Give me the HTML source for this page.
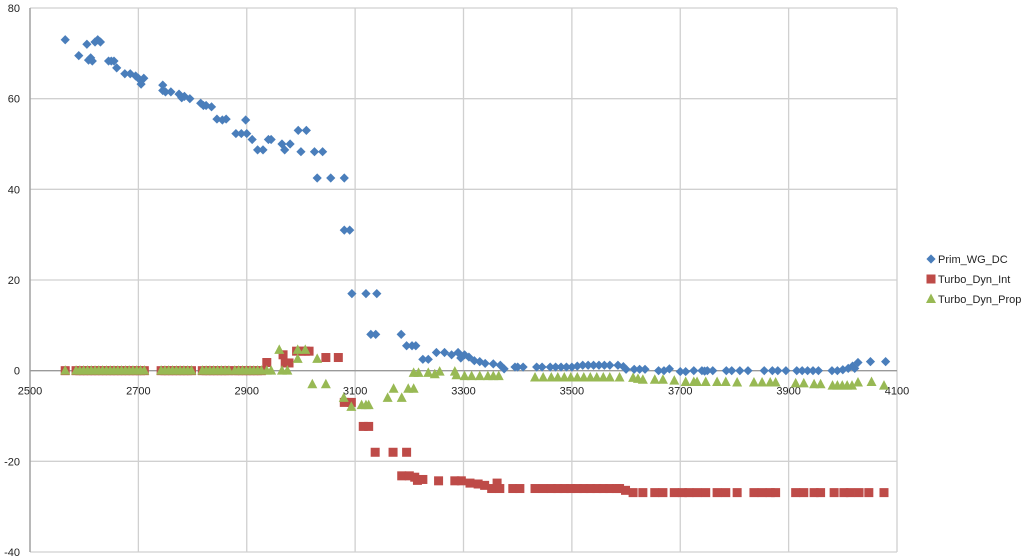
<!DOCTYPE html>
<html><head><meta charset="utf-8"><style>
html,body{margin:0;padding:0;background:#fff;}
svg{display:block;font-family:"Liberation Sans",sans-serif;}
</style></head><body>
<svg id="chart" width="1024" height="558" xmlns="http://www.w3.org/2000/svg">
<g id="grid"></g>
<g id="axes"></g>
<g id="marks"></g>
<g id="legend"></g>
</svg>
<script>
const xTicks=[2500,2700,2900,3100,3300,3500,3700,3900,4100];
const yTicks=[80,60,40,20,0,-20,-40];
const seriesNames=["Prim_WG_DC","Turbo_Dyn_Int","Turbo_Dyn_Prop"];
const primX=[2565,2590,2605,2608,2612,2615,2620,2625,2630,2645,2650,2655,2660,2675,2685,2695,2700,2705,2710,2745,2745,2750,2760,2775,2780,2785,2795,2815,2820,2825,2835,2845,2855,2862,2880,2890,2898,2900,2910,2920,2930,2940,2945,2965,2970,2980,2995,3000,3010,3025,3030,3040,3055,3080,3080,3090,3094,3120,3140,3129,3138,3185,3195,3205,3212,3225,3235,3250,3265,3278,3290,3295,3302,3310,3320,3330,3340,3355,3368,3375,3395,3400,3410,3435,3445,3460,3470,3480,3490,3500,3510,3520,3530,3540,3550,3560,3570,3585,3595,3600,3615,3625,3635,3660,3670,3680,3700,3710,3725,3740,3745,3750,3760,3785,3795,3810,3825,3855,3870,3880,3895,3915,3925,3935,3945,3955,3980,3990,4000,4010,4018,4022,4028,4051,4079];
const primY=[73,69.5,72,68.5,69,68.3,72.5,73,72.5,68.3,68.3,68.3,66.8,65.5,65.5,65,64.5,63.2,64.5,63,61.8,61.5,61.5,61,60.2,60.5,60,59,58.5,58.5,58.2,55.5,55.3,55.5,52.3,52.3,55.3,52.3,51,48.7,48.7,51,51,50,48.7,50,53,48.3,53,48.3,42.5,48.3,42.5,42.5,31,31,17,17,17,8,8,8,5.5,5.5,5.5,2.5,2.5,4,4,3.5,4,2.8,3.5,3,2.2,2,1.6,1.5,1.2,0.4,0.8,0.8,0.8,0.8,0.8,0.8,0.8,0.8,0.8,0.8,1,1.2,1.2,1.2,1.2,1.2,1.2,1.2,0.9,0.3,0.3,0.3,0.3,0,0,0.4,-0.2,-0.2,0,0,-0.1,0,0,0,0,0,0,0,0,0,0,0,0,0,0,0,0,0,0.2,0.5,1,0.5,1.8,2,2];
const intX=[2565,2585,2592,2599,2606,2613,2620,2627,2634,2641,2648,2655,2662,2669,2676,2683,2690,2697,2704,2711,2742,2749,2756,2763,2770,2777,2784,2791,2798,2818,2825,2832,2839,2846,2853,2860,2867,2878,2885,2892,2899,2906,2913,2920,2927,2937,2967,2971,2978,2992,3000,3008,3015,3046,3069,3080,3093,3115,3125,3137,3170,3195,3186,3200,3210,3215,3225,3254,3284,3296,3312,3327,3339,3352,3362,3367,3391,3404,3432,3447,3462,3474,3486,3498,3510,3522,3534,3546,3558,3570,3582,3588,3599,3613,3631,3653,3668,3689,3704,3716,3731,3747,3768,3784,3805,3836,3851,3866,3876,3913,3928,3947,3959,3984,4002,4014,4030,4048,4076];
const intY=[0,0,0,0,0,0,0,0,0,0,0,0,0,0,0,0,0,0,0,0,0,0,0,0,0,0,0,0,0,0,0,0,0,0,0,0,0,0,0,0,0,0,0,0,0,1.8,3.5,1.7,1.7,4.3,4.3,4.3,4.3,2.9,2.9,-7,-7,-12.3,-12.3,-18,-18,-18,-23.2,-23.2,-23.5,-24.2,-24,-24.3,-24.3,-24.3,-24.8,-25,-25.3,-26,-24.8,-26,-26,-26,-26,-26,-26,-26,-26,-26,-26,-26,-26,-26,-26,-26,-26,-26,-26.4,-26.9,-26.9,-26.9,-26.9,-26.9,-26.9,-26.9,-26.9,-26.9,-26.9,-26.9,-26.9,-26.9,-26.9,-26.9,-26.9,-26.9,-26.9,-26.9,-26.9,-26.9,-26.9,-26.9,-26.9,-26.9,-26.9];
const propX=[2565,2585,2592,2599,2606,2613,2620,2627,2634,2641,2648,2655,2662,2669,2676,2683,2690,2697,2704,2711,2742,2749,2756,2763,2770,2777,2784,2791,2798,2818,2825,2832,2839,2846,2853,2860,2867,2878,2885,2892,2899,2906,2913,2920,2927,2937,2945,2960,2965,2975,2994,3008,2994,3030,3021,3046,3079,3093,3112,3120,3125,3160,3171,3186,3198,3208,3208,3217,3235,3247,3256,3284,3287,3302,3315,3330,3345,3355,3365,3432,3447,3462,3474,3486,3498,3510,3522,3534,3546,3558,3570,3588,3613,3622,3631,3653,3668,3689,3710,3725,3731,3747,3768,3784,3805,3836,3851,3866,3876,3913,3928,3947,3959,3981,3990,3999,4008,4017,4028,4053,4076];
const propY=[0,0,0,0,0,0,0,0,0,0,0,0,0,0,0,0,0,0,0,0,0,0,0,0,0,0,0,0,0,0,0,0,0,0,0,0,0,0,0,0,0,0,0,0,0,0,0,4.6,0,0,4.6,4.6,2.6,2.6,-3,-3,-6,-8,-7.6,-7.6,-7.6,-6,-4,-6,-4,-4,-0.5,-0.5,-0.5,-0.8,-0.2,-0.2,-1,-1.2,-1.2,-1.2,-1.2,-1.2,-1.2,-1.5,-1.5,-1.5,-1.5,-1.5,-1.5,-1.5,-1.5,-1.5,-1.5,-1.5,-1.5,-1.5,-1.6,-1.8,-2,-2,-2,-2.2,-2.5,-2.5,-2.5,-2.5,-2.5,-2.5,-2.6,-2.6,-2.6,-2.6,-2.6,-2.8,-2.8,-3,-3,-3.3,-3.3,-3.3,-3.3,-3.3,-2.6,-2.5,-3.3];

const NS="http://www.w3.org/2000/svg";
const L=30,R=897,T=8,B=552,XMIN=2500,XMAX=4100,YMIN=-40,YMAX=80;
function sx(v){return L+(v-XMIN)/(XMAX-XMIN)*(R-L);}
function sy(v){return B-(v-YMIN)/(YMAX-YMIN)*(B-T);}
function mk(tag,attrs,parent){const e=document.createElementNS(NS,tag);for(const k in attrs)e.setAttribute(k,attrs[k]);parent.appendChild(e);return e;}
const grid=document.getElementById('grid'),axes=document.getElementById('axes'),marks=document.getElementById('marks'),legend=document.getElementById('legend');
xTicks.forEach(t=>{const l=mk('line',{x1:sx(t),x2:sx(t),y1:T,y2:B,stroke:'#d0d0d0','stroke-width':1.3},grid);


const tx=mk('text',{x:sx(t),y:sy(0)+24,'text-anchor':'middle','font-size':11,fill:'#222'},axes);tx.textContent=t;

});
yTicks.forEach(t=>{const l=mk('line',{x1:L,x2:R,y1:sy(t),y2:sy(t),stroke:t===0?'#9a9a9a':'#d0d0d0','stroke-width':1.3},grid);


const tx=mk('text',{x:20,y:sy(t)+4,'text-anchor':'end','font-size':11,fill:'#222'},axes);tx.textContent=t;

});
const ax=mk('line',{x1:L,x2:L,y1:T,y2:B,stroke:'#9a9a9a','stroke-width':1.3},axes);


function diamond(x,y,p){const s=4.6;const e=mk('polygon',{points:`${x},${y-s} ${x+s},${y} ${x},${y+s} ${x-s},${y}`,fill:'#4a7ebb'},p);return e;}
function square(x,y,p){return mk('rect',{x:x-4.5,y:y-4.5,width:9,height:9,fill:'#be4b48'},p);}
function tri(x,y,p){return mk('polygon',{points:`${x},${y-5.5} ${x+5},${y+4} ${x-5},${y+4}`,fill:'#98b954'},p);}
intX.forEach((v,i)=>{const e=square(sx(v),sy(intY[i]),marks);

});
propX.forEach((v,i)=>{const e=tri(sx(v),sy(propY[i]),marks);

});
primX.forEach((v,i)=>{const e=diamond(sx(v),sy(primY[i]),marks);

});
const fns=[diamond,square,tri];
seriesNames.forEach((n,i)=>{const y=259+i*20;const m=fns[i](931,y,legend);


const t=mk('text',{x:938,y:y+4,'font-size':11,fill:'#222'},legend);t.textContent=n;

});
</script>
</body></html>
